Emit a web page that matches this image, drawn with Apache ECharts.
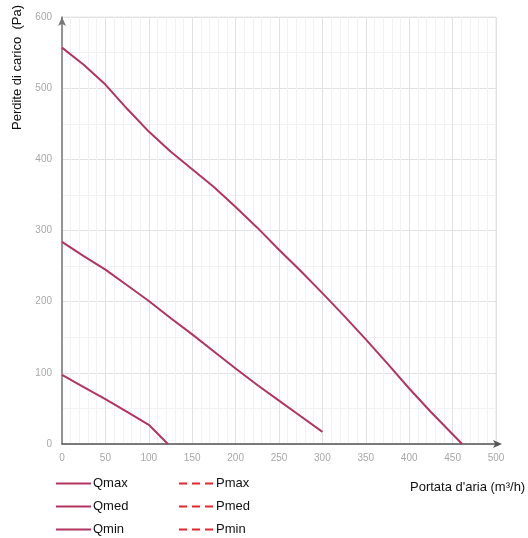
<!DOCTYPE html>
<html><head><meta charset="utf-8">
<script src="https://cdn.jsdelivr.net/npm/echarts@6/dist/echarts.min.js"></script>
<style>html,body{margin:0;padding:0;background:#fff}#c{width:528px;height:538px}</style>
</head><body><div id="c"></div>
<script>
const qmaxX = [0, 25, 50, 75, 100, 125, 150, 175, 200, 225, 250, 275, 300, 325, 350, 375, 400, 425, 461];
const qmaxY = [557, 533, 505, 471, 439, 411, 386, 361, 333, 304, 273, 243, 212, 180, 147, 113, 78, 45, 0];
const qmedX = [0, 25, 50, 75, 100, 125, 150, 175, 200, 225, 250, 275, 300];
const qmedY = [284, 264, 245, 223, 201, 177, 154, 130, 106, 83, 61, 39, 17];
const qminX = [0, 25, 50, 75, 100, 122];
const qminY = [97, 80, 63, 45, 27, 0];
const xTicks = [0, 50, 100, 150, 200, 250, 300, 350, 400, 450, 500];
const yTicks = [0, 100, 200, 300, 400, 500, 600];
const qNames = ['Qmax', 'Qmed', 'Qmin'];
const pNames = ['Pmax', 'Pmed', 'Pmin'];

const pair = (xs, ys) => xs.map((x, i) => [x, ys[i]]);
const qColor = '#b3355d';
const pColor = '#e4262e';

const chart = echarts.init(document.getElementById('c'), null, {renderer: 'canvas'});
const qSeries = [[qmaxX, qmaxY], [qmedX, qmedY], [qminX, qminY]].map((d, i) => ({
  name: qNames[i], type: 'line', data: pair(d[0], d[1]), showSymbol: false, symbol: 'none',
  lineStyle: {color: qColor, width: 2, join: 'round'}, itemStyle: {color: qColor}, silent: true
}));
const pSeries = pNames.map(n => ({
  name: n, type: 'line', data: [], symbol: 'none',
  lineStyle: {color: pColor, width: 2, type: [8, 5]}, itemStyle: {color: pColor}
}));

const legendBase = {orient: 'vertical', top: 472, height: 90, itemWidth: 35, itemHeight: 14, itemGap: 10, itemStyle: {opacity: 0},
  textStyle: {color: '#111', fontSize: 13, fontFamily: 'Liberation Sans', padding: [0, 0, 0, -3]}, selectedMode: false};

chart.setOption({
  animation: false,
  grid: {left: 62, right: 32, top: 17, bottom: 94, show: true, borderColor: '#e6e6e6', borderWidth: 1},
  xAxis: {
    type: 'value', min: xTicks[0], max: xTicks[xTicks.length - 1], interval: 50,
    axisLine: {show: true, onZero: false, lineStyle: {color: '#555', width: 1.5}, symbol: ['none', 'arrow'], symbolSize: [6, 9], symbolOffset: [0, 6]},
    axisTick: {show: false},
    axisLabel: {color: '#a8a8a8', fontSize: 10, margin: 9, fontFamily: 'Liberation Sans'},
    splitLine: {show: true, lineStyle: {color: '#e2e2e2', width: 1}},
    minorTick: {show: false, splitNumber: 5},
    minorSplitLine: {show: true, lineStyle: {color: '#f2f2f2', width: 1}}
  },
  yAxis: {
    type: 'value', min: yTicks[0], max: yTicks[yTicks.length - 1], interval: 100,
    axisLine: {show: true, onZero: false, lineStyle: {color: '#777', width: 1.5}, symbol: ['none', 'arrow'], symbolSize: [6, 9]},
    axisTick: {show: false},
    axisLabel: {color: '#a8a8a8', fontSize: 10, margin: 10, fontFamily: 'Liberation Sans'},
    splitLine: {show: true, lineStyle: {color: '#e2e2e2', width: 1}},
    minorTick: {show: false, splitNumber: 2},
    minorSplitLine: {show: true, lineStyle: {color: '#f2f2f2', width: 1}}
  },
  legend: [
    Object.assign({data: qNames, left: 50}, legendBase),
    Object.assign({data: pNames, left: 173}, legendBase)
  ],
  graphic: [
    {type: 'text', left: 410, top: 481, style: {text: "Portata d'aria (m³/h)", fill: '#111', font: '13px "Liberation Sans"'}},
    {type: 'text', x: 11, y: 130, rotation: Math.PI / 2, style: {text: 'Perdite di carico  (Pa)', fill: '#111', font: '13px "Liberation Sans"', textVerticalAlign: 'top'}}
  ],
  series: qSeries.concat(pSeries)
});
</script></body></html>
